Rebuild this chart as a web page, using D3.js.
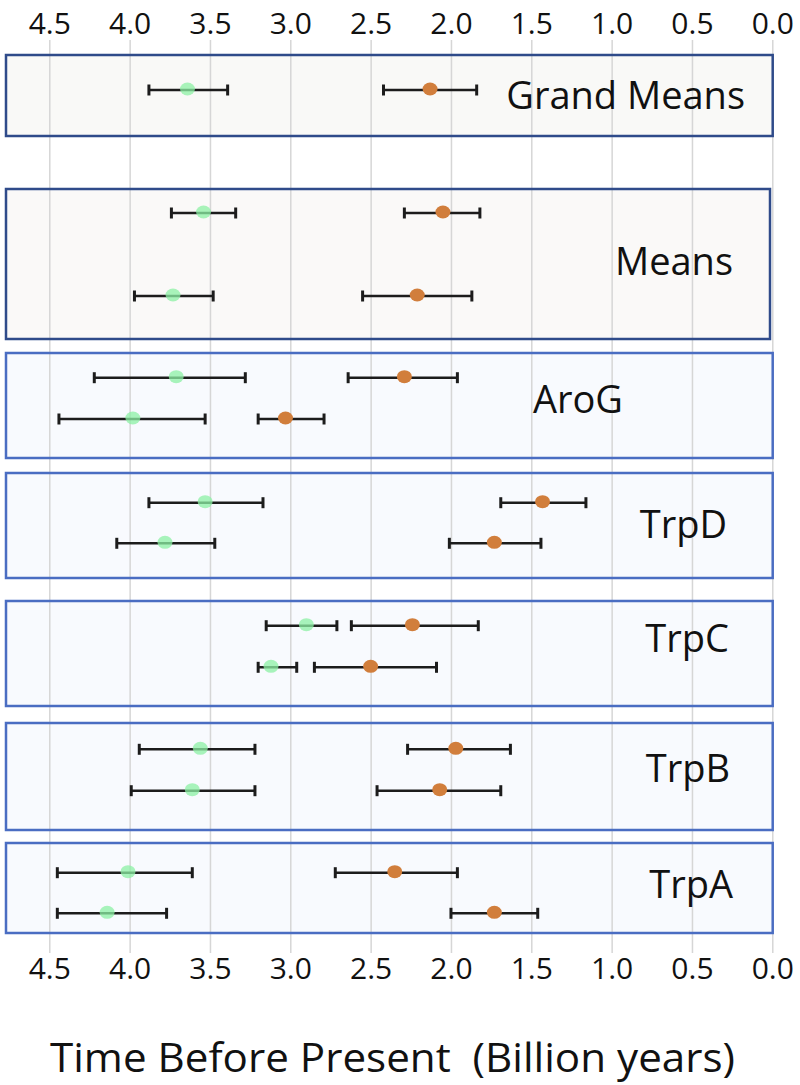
<!DOCTYPE html>
<html>
<head>
<meta charset="utf-8">
<script src="https://cdn.jsdelivr.net/npm/d3@7"></script>
<style>
  body { margin: 0; background: #fff; }
  svg text { font-family: "Open Sans", sans-serif; fill: #111; }
</style>
</head>
<body>
<svg id="chart"></svg>
<script>
// data (billion years before present)
var panelNames = ["Grand Means", "Means", "AroG", "TrpD", "TrpC", "TrpB", "TrpA"];
var xTicks = [4.5, 4.0, 3.5, 3.0, 2.5, 2.0, 1.5, 1.0, 0.5, 0.0];

// green series: mean and the two ends of the error bar, one row per entry
var greenMean  = [[3.64], [3.54, 3.73], [3.71, 3.98], [3.53, 3.78], [2.90, 3.12], [3.56, 3.61], [4.01, 4.14]];
var greenOld   = [[3.88], [3.74, 3.97], [4.22, 4.44], [3.88, 4.08], [3.15, 3.20], [3.94, 3.99], [4.45, 4.45]];
var greenYoung = [[3.39], [3.34, 3.48], [3.28, 3.53], [3.17, 3.47], [2.71, 2.96], [3.22, 3.22], [3.61, 3.77]];

// orange series
var orangeMean  = [[2.13], [2.05, 2.21], [2.29, 3.03], [1.43, 1.73], [2.24, 2.50], [1.97, 2.07], [2.35, 1.73]];
var orangeOld   = [[2.42], [2.29, 2.55], [2.64, 3.20], [1.69, 2.01], [2.62, 2.85], [2.27, 2.46], [2.72, 2.00]];
var orangeYoung = [[1.84], [1.82, 1.87], [1.96, 2.79], [1.16, 1.44], [1.83, 2.09], [1.63, 1.69], [1.96, 1.46]];

// layout of the panel boxes (pixels)
var layout = [
    { top: 55,  bottom: 136, right: 772.7, row0: 35,   gap: 0,    labelX: 745, labelY: 94,  fill: "#f9f9f7", stroke: "#2f4b8a" },
    { top: 189, bottom: 339, right: 770,   row0: 24,   gap: 83,   labelX: 733, labelY: 260, fill: "#faf9f8", stroke: "#2f4b8a" },
    { top: 353, bottom: 458, right: 772.7, row0: 24.7, gap: 41.3, labelX: 623, labelY: 398, fill: "#f8fafe", stroke: "#4a6dc2" },
    { top: 473, bottom: 578, right: 772.7, row0: 29.7, gap: 40.6, labelX: 727, labelY: 523, fill: "#f8fafe", stroke: "#4a6dc2" },
    { top: 601, bottom: 706, right: 772.7, row0: 24.7, gap: 41.6, labelX: 729, labelY: 637, fill: "#f8fafe", stroke: "#4a6dc2" },
    { top: 723, bottom: 830, right: 772.7, row0: 26.3, gap: 41.4, labelX: 730, labelY: 767, fill: "#f8fafe", stroke: "#4a6dc2" },
    { top: 843, bottom: 933, right: 772.7, row0: 29.7, gap: 40.6, labelX: 733, labelY: 883, fill: "#f8fafe", stroke: "#4a6dc2" }
];

var width = 800, height = 1085;
var gridTop = 40, gridBottom = 953;
var boxLeft = 6;

var svg = d3.select("#chart")
    .attr("width", width)
    .attr("height", height);

// reversed time axis: older on the left
var xScale = d3.scaleLinear()
    .domain([4.5, 0])
    .range([49.3, 772.3]);

// panel fills
svg.selectAll("rect.fill")
    .data(layout)
    .enter()
    .append("rect")
    .attr("x", boxLeft)
    .attr("y", d => d.top)
    .attr("width", d => d.right - boxLeft)
    .attr("height", d => d.bottom - d.top)
    .attr("fill", d => d.fill);

// vertical grid lines
svg.append("g")
    .attr("transform", `translate(0, ${gridTop})`)
    .call(d3.axisBottom(xScale).tickValues(xTicks).tickSize(gridBottom - gridTop).tickFormat(""))
    .call(g => g.select(".domain").remove())
    .call(g => g.selectAll(".tick line").attr("stroke", "#d6d6d6").attr("stroke-width", 1.5));

// panel borders
svg.selectAll("rect.border")
    .data(layout)
    .enter()
    .append("rect")
    .attr("x", boxLeft)
    .attr("y", d => d.top)
    .attr("width", d => d.right - boxLeft)
    .attr("height", d => d.bottom - d.top)
    .attr("fill", "none")
    .attr("stroke", d => d.stroke)
    .attr("stroke-width", 2.5);

// tick labels top and bottom
function tickLabels(axis, y) {
    svg.append("g")
        .attr("transform", `translate(0, ${y})`)
        .call(axis(xScale).tickValues(xTicks).tickSize(0).tickFormat(d3.format(".1f")))
        .call(g => g.select(".domain").remove())
        .call(g => g.selectAll(".tick text")
            .attr("font-family", "Open Sans, sans-serif")
            .attr("font-size", 30)
            .attr("fill", "#111"));
}
tickLabels(d3.axisTop, 37);
tickLabels(d3.axisBottom, 955);

// build the error bar records
var rows = [];
panelNames.forEach(function(name, p) {
    var L = layout[p];
    var yRow = d3.scaleLinear().domain([0, 1]).range([L.top + L.row0, L.top + L.row0 + L.gap]);
    greenMean[p].forEach(function(m, i) {
        rows.push({ series: "green", mean: m, old: greenOld[p][i], young: greenYoung[p][i], y: yRow(i) });
        rows.push({ series: "orange", mean: orangeMean[p][i], old: orangeOld[p][i], young: orangeYoung[p][i], y: yRow(i) });
    });
});

var bars = svg.append("g");
var capH = 11;

bars.selectAll("line.span")
    .data(rows)
    .enter()
    .append("line")
    .attr("x1", d => xScale(d.old))
    .attr("x2", d => xScale(d.young))
    .attr("y1", d => d.y)
    .attr("y2", d => d.y)
    .attr("stroke", "#1c1c1c")
    .attr("stroke-width", 2.4);

["old", "young"].forEach(function(k) {
    bars.selectAll("line.cap-" + k)
        .data(rows)
        .enter()
        .append("line")
        .attr("x1", d => xScale(d[k]))
        .attr("x2", d => xScale(d[k]))
        .attr("y1", d => d.y - capH / 2)
        .attr("y2", d => d.y + capH / 2)
        .attr("stroke", "#1c1c1c")
        .attr("stroke-width", 3);
});

// points
bars.selectAll("ellipse")
    .data(rows)
    .enter()
    .append("ellipse")
    .attr("cx", d => xScale(d.mean))
    .attr("cy", d => d.y - 1)
    .attr("rx", 7.5)
    .attr("ry", 6.5)
    .attr("fill", d => d.series === "green" ? "#8cf0a4" : "#d17e3c")
    .attr("fill-opacity", d => d.series === "green" ? 0.75 : 1);

// panel names
svg.selectAll("text.panel")
    .data(layout)
    .enter()
    .append("text")
    .attr("x", d => d.labelX)
    .attr("y", d => d.labelY)
    .attr("text-anchor", "end")
    .attr("dominant-baseline", "central")
    .attr("font-size", 38)
    .text((d, i) => panelNames[i]);

// axis title
svg.append("text")
    .attr("x", 50)
    .attr("y", 1056)
    .attr("dominant-baseline", "central")
    .attr("font-size", 40)
    .attr("textLength", 685)
    .attr("lengthAdjust", "spacingAndGlyphs")
    .style("white-space", "pre")
    .text("Time Before Present  (Billion years)");
</script>
</body>
</html>
